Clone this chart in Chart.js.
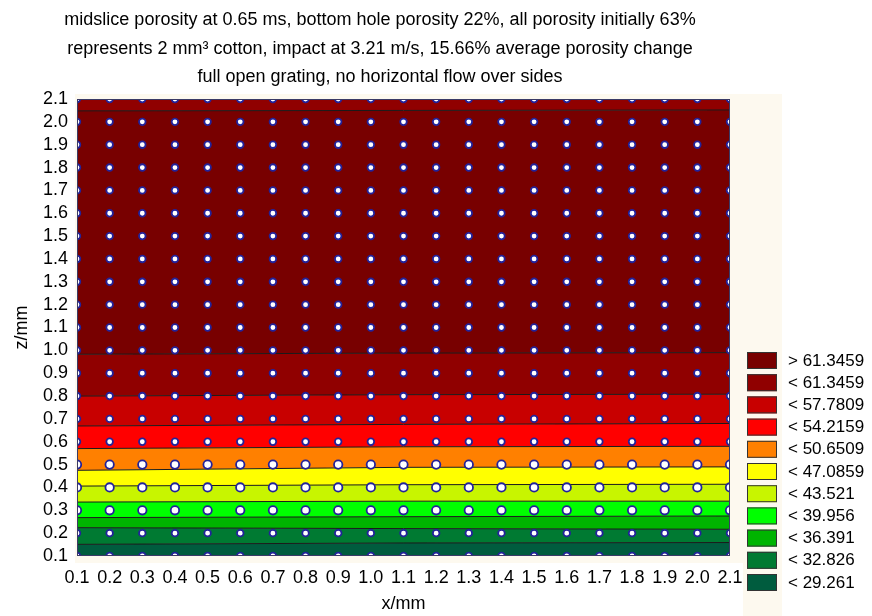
<!DOCTYPE html>
<html>
<head>
<meta charset="utf-8">
<script src="https://cdn.jsdelivr.net/npm/chart.js@4.4.0/dist/chart.umd.min.js"></script>
<style>
  html, body { margin: 0; padding: 0; background: #ffffff; }
  #wrap { width: 872px; height: 616px; position: relative; }
</style>
</head>
<body>
<div id="wrap"><canvas id="c" width="872" height="616"></canvas></div>
<script>
// ---- chart text ----
const titleLines = [
  'midslice porosity at 0.65 ms, bottom hole porosity 22%, all porosity initially 63%',
  'represents 2 mm\u00B3 cotton, impact at 3.21 m/s, 15.66% average porosity change',
  'full open grating, no horizontal flow over sides'
];
const xTitle = 'x/mm';
const zTitle = 'z/mm';

// ---- axis ticks (mm) ----
const xTicks = [0.1, 0.2, 0.3, 0.4, 0.5, 0.6, 0.7, 0.8, 0.9, 1.0, 1.1, 1.2, 1.3, 1.4, 1.5, 1.6, 1.7, 1.8, 1.9, 2.0, 2.1];
const zTicks = [0.1, 0.2, 0.3, 0.4, 0.5, 0.6, 0.7, 0.8, 0.9, 1.0, 1.1, 1.2, 1.3, 1.4, 1.5, 1.6, 1.7, 1.8, 1.9, 2.0, 2.1];

// ---- contour bands: upper edge z (mm) of each band at x = 0.1, 1.1, 2.1 (bottom band first) ----
const edgeX = [0.1, 1.1, 2.1];
const bandTopLeft  = [0.151, 0.224, 0.268, 0.336, 0.406, 0.475, 0.570, 0.669, 0.800, 0.983, 2.048, 2.1];
const bandTopMid   = [0.157, 0.220, 0.272, 0.340, 0.412, 0.488, 0.578, 0.676, 0.806, 0.988, 2.050, 2.1];
const bandTopRight = [0.159, 0.217, 0.275, 0.340, 0.414, 0.490, 0.580, 0.680, 0.808, 0.990, 2.052, 2.1];
const bandColors = ['#005c3e', '#007a32', '#00b400', '#00ff00', '#c8f500', '#ffff00',
                    '#ff8000', '#ff0000', '#c80000', '#900000', '#780000', '#900000'];

// ---- legend (top to bottom) ----
const legendLabels = ['> 61.3459', '< 61.3459', '< 57.7809', '< 54.2159', '< 50.6509', '< 47.0859',
                      '< 43.521', '< 39.956', '< 36.391', '< 32.826', '< 29.261'];
const legendColors = ['#780000', '#900000', '#c80000', '#ff0000', '#ff8000', '#ffff00',
                      '#c8f500', '#00ff00', '#00b400', '#007a32', '#005c3e'];

const FONT = '"Liberation Sans", Arial, sans-serif';

// grid nodes of the simulation mesh
const nodes = [];
zTicks.forEach(z => xTicks.forEach(x => nodes.push({ x: x, y: z })));

const bandSets = bandColors.map((col, i) => ({
  type: 'scatter',
  showLine: true,
  data: edgeX.map((x, k) => ({ x: x, y: [bandTopLeft[i], bandTopMid[i], bandTopRight[i]][k] })),
  borderColor: '#1a1a1a',
  borderWidth: i === bandColors.length - 1 ? 0 : 1,
  backgroundColor: col,
  fill: i === 0 ? 'start' : '-1',
  pointRadius: 0,
  tension: 0
}));

const nodeSet = {
  type: 'scatter',
  data: nodes,
  showLine: false,
  pointBackgroundColor: '#ffffff',
  pointBorderColor: '#22229a',
  pointBorderWidth: 1.8,
  pointRadius: ctx => {
    const z = ctx.raw ? ctx.raw.y : 1;
    return (z > 0.25 && z < 0.55) ? 4.2 : 3.3;
  },
  clip: 0
};

// panel backgrounds, titles, frame and colour key
const decor = {
  id: 'decor',
  beforeDraw(chart) {
    const c = chart.ctx;
    c.save();
    c.fillStyle = '#fdf9ef';
    c.fillRect(75, 94, 668, 469);
    c.fillRect(743, 94, 39, 522);
    c.fillStyle = '#000';
    c.font = '18px ' + FONT;
    c.textAlign = 'center';
    c.textBaseline = 'middle';
    const ys = [20, 49, 77];
    titleLines.forEach((t, i) => c.fillText(t, 380, ys[i]));
    c.restore();
  },
  afterDraw(chart) {
    const c = chart.ctx;
    const a = chart.chartArea;
    c.save();
    c.strokeStyle = '#3a3a66';
    c.lineWidth = 1;
    c.strokeRect(a.left + 0.5, a.top + 0.5, a.right - a.left - 1, a.bottom - a.top - 1);
    c.font = '17px ' + FONT;
    c.textAlign = 'left';
    c.textBaseline = 'middle';
    legendLabels.forEach((lab, i) => {
      const top = 352 + i * 22.2;
      c.fillStyle = legendColors[i];
      c.fillRect(747, top, 30, 17);
      c.strokeStyle = '#333333';
      c.strokeRect(747.5, top + 0.5, 29, 16);
      c.fillStyle = '#000';
      c.fillText(lab, 788, top + 9);
    });
    c.restore();
  }
};

new Chart(document.getElementById('c'), {
  type: 'scatter',
  data: { datasets: [nodeSet].concat(bandSets) },
  options: {
    responsive: false,
    animation: false,
    devicePixelRatio: 1,
    layout: { padding: { top: 99, right: 142, bottom: 0, left: 0 } },
    plugins: { legend: { display: false }, tooltip: { enabled: false }, title: { display: false } },
    scales: {
      x: {
        type: 'linear', min: 0.1, max: 2.1,
        afterBuildTicks: s => { s.ticks = xTicks.map(v => ({ value: v })); },
        afterFit: s => { s.height = 60; },
        ticks: { autoSkip: false, maxRotation: 0, padding: 11, color: '#000',
                 font: { size: 18, family: FONT }, callback: v => v.toFixed(1) },
        grid: { display: false, drawTicks: false },
        border: { display: false },
        title: { display: true, text: xTitle, color: '#000', font: { size: 18, family: FONT },
                 padding: { top: 0, bottom: 1 } }
      },
      y: {
        type: 'linear', min: 0.1, max: 2.1,
        afterBuildTicks: s => { s.ticks = zTicks.map(v => ({ value: v })); },
        afterFit: s => { s.width = 77; },
        ticks: { autoSkip: false, padding: 9, color: '#000',
                 font: { size: 18, family: FONT }, callback: v => v.toFixed(1) },
        grid: { display: false, drawTicks: false },
        border: { display: false },
        title: { display: true, text: zTitle, color: '#000', font: { size: 18, family: FONT },
                 padding: { top: 11, bottom: 0 } }
      }
    }
  },
  plugins: [decor]
});
</script>
</body>
</html>
